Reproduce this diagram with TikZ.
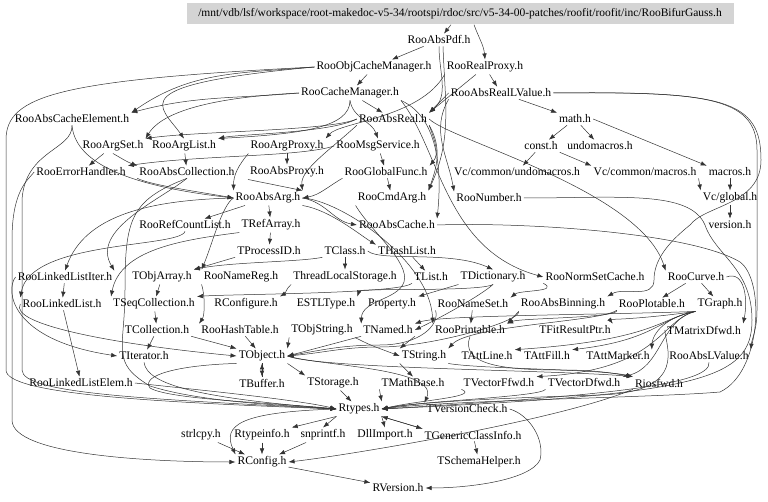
\documentclass[tikz,border=0pt]{standalone}
\usepackage{fontspec}
\setmainfont{Liberation Serif}
\usetikzlibrary{arrows.meta}

\begin{document}
\begin{tikzpicture}[x=1pt,y=-1pt]
        \tikzstyle{file}
	  =[inner sep=2pt, font=\fontsize{11.6}{13}\selectfont]
        \tikzstyle{dep}
	  =[draw=black!80, line width=0.5pt, -{Latex[length=6pt,width=4.5pt]}]
	\useasboundingbox (0,0) rectangle (768,502);

	% the file itself
	\node[file,font=\fontsize{11.5}{13}\selectfont,fill=black!17,minimum width=547pt,minimum height=21pt] (box)
	  at (460,14) {/mnt/vdb/lsf/workspace/root-makedoc-v5-34/rootspi/rdoc/src/v5-34-00-patches/roofit/roofit/inc/RooBifurGauss.h};

	% included files, row by row
	\node[file] (pdf) at (439,40) {RooAbsPdf.h};
	\node[file] (objcache) at (374,67) {RooObjCacheManager.h};
	\node[file] (realproxy) at (485,67) {RooRealProxy.h};
	\node[file] (cachemgr) at (350,93) {RooCacheManager.h};
	\node[file] (reallv) at (501,93) {RooAbsRealLValue.h};
	\node[file] (cacheelem) at (72,119) {RooAbsCacheElement.h};
	\node[file] (absreal) at (393,119) {RooAbsReal.h};
	\node[file] (math) at (575,119) {math.h};
	\node[file] (argset) at (113,146) {RooArgSet.h};
	\node[file] (arglist) at (184,146) {RooArgList.h};
	\node[file] (argproxy) at (287,146) {RooArgProxy.h};
	\node[file] (msgsvc) at (378,146) {RooMsgService.h};
	\node[file] (const) at (541,146) {const.h};
	\node[file] (undo) at (600,146) {undomacros.h};
	\node[file] (errhandler) at (81,172) {RooErrorHandler.h};
	\node[file] (abscoll) at (187,172) {RooAbsCollection.h};
	\node[file] (absproxy) at (287,172) {RooAbsProxy.h};
	\node[file] (globalfunc) at (386,172) {RooGlobalFunc.h};
	\node[file] (vcundo) at (517,172) {Vc/common/undomacros.h};
	\node[file] (vcmacros) at (645,172) {Vc/common/macros.h};
	\node[file] (macros) at (730,172) {macros.h};
	\node[file] (absarg) at (268,198) {RooAbsArg.h};
	\node[file] (cmdarg) at (392,198) {RooCmdArg.h};
	\node[file] (number) at (489,198) {RooNumber.h};
	\node[file] (vcglobal) at (730,198) {Vc/global.h};
	\node[file] (refcount) at (185,225) {RooRefCountList.h};
	\node[file] (refarray) at (271,225) {TRefArray.h};
	\node[file] (abscache) at (397,225) {RooAbsCache.h};
	\node[file] (version) at (730,225) {version.h};
	\node[file] (processid) at (269,251) {TProcessID.h};
	\node[file] (tclass) at (345,251) {TClass.h};
	\node[file] (hashlist) at (407,251) {THashList.h};
	\node[file] (llistiter) at (65,277) {RooLinkedListIter.h};
	\node[file] (objarray) at (162,277) {TObjArray.h};
	\node[file] (namereg) at (241,277) {RooNameReg.h};
	\node[file] (tls) at (345,277) {ThreadLocalStorage.h};
	\node[file] (tlist) at (431,277) {TList.h};
	\node[file] (dictionary) at (493,277) {TDictionary.h};
	\node[file] (normset) at (595,277) {RooNormSetCache.h};
	\node[file] (curve) at (696,277) {RooCurve.h};
	\node[file] (llist) at (62,304) {RooLinkedList.h};
	\node[file] (seqcoll) at (154,304) {TSeqCollection.h};
	\node[file] (rconfigure) at (246,304) {RConfigure.h};
	\node[file] (estl) at (326,304) {ESTLType.h};
	\node[file] (property) at (392,304) {Property.h};
	\node[file] (nameset) at (473,304) {RooNameSet.h};
	\node[file] (binning) at (563,304) {RooAbsBinning.h};
	\node[file] (plotable) at (652,304) {RooPlotable.h};
	\node[file] (graph) at (720,304) {TGraph.h};
	\node[file] (collection) at (157,330) {TCollection.h};
	\node[file] (hashtable) at (240,330) {RooHashTable.h};
	\node[file] (objstring) at (322,330) {TObjString.h};
	\node[file] (named) at (388,330) {TNamed.h};
	\node[file] (printable) at (470,330) {RooPrintable.h};
	\node[file] (fitresult) at (575,330) {TFitResultPtr.h};
	\node[file] (matrixd) at (704,330) {TMatrixDfwd.h};
	\node[file] (iterator) at (144,356) {TIterator.h};
	\node[file] (tobject) at (262,356) {TObject.h};
	\node[file] (tstring) at (424,356) {TString.h};
	\node[file] (attline) at (487,356) {TAttLine.h};
	\node[file] (attfill) at (547,356) {TAttFill.h};
	\node[file] (attmarker) at (618,356) {TAttMarker.h};
	\node[file] (abslv) at (709,356) {RooAbsLValue.h};
	\node[file] (llelem) at (81,383) {RooLinkedListElem.h};
	\node[file] (buffer) at (262,383) {TBuffer.h};
	\node[file] (storage) at (333,383) {TStorage.h};
	\node[file] (mathbase) at (413,383) {TMathBase.h};
	\node[file] (vecf) at (499,383) {TVectorFfwd.h};
	\node[file] (vecd) at (584,383) {TVectorDfwd.h};
	\node[file] (iosfwd) at (659,383) {Riosfwd.h};
	\node[file] (rtypes) at (359,409) {Rtypes.h};
	\node[file] (vcheck) at (467,409) {TVersionCheck.h};
	\node[file] (strlcpy) at (201,435) {strlcpy.h};
	\node[file] (typeinfo) at (262,435) {Rtypeinfo.h};
	\node[file] (snprintf) at (323,435) {snprintf.h};
	\node[file] (dllimport) at (385,435) {DllImport.h};
	\node[file] (genclass) at (473,435) {TGenericClassInfo.h};
	\node[file] (rconfig) at (262,462) {RConfig.h};
	\node[file] (schema) at (479,462) {TSchemaHelper.h};
	\node[file] (rversion) at (398,488) {RVersion.h};

	% top part
	\draw[dep] ([xshift=-9pt]box.south) -- (pdf);
	\draw[dep] ([xshift=14pt]box.south) to[out=-70,in=95] (realproxy.north);
	\draw[dep] (pdf) -- (objcache);
	\draw[dep] (pdf.south) to[out=-90,in=40] (absreal.north east);
	\draw[dep] ([xshift=4pt]pdf.south) to[out=-88,in=65] (cmdarg.north east);
	\draw[dep] (objcache) -- (cachemgr);
	\draw[dep] (objcache.west) to[out=185,in=35] (cacheelem.north east);
	\draw[dep] (objcache.west) .. controls (120,85) and (160,105) .. (arglist.north);
	\draw[dep] (objcache.west) .. controls (60,80) and (6,95) .. (6,140)
	  -- (6,370) .. controls (6,394) and (150,402) .. (rtypes.west);
	\draw[dep] (cachemgr.west) to[out=185,in=15] (cacheelem.north east);
	\draw[dep] (cachemgr.west) .. controls (200,98) and (160,115) .. (argset.north east);
	\draw[dep] (cachemgr.south) .. controls (350,128) and (300,134) .. (arglist.north east);
	\draw[dep] (cachemgr) -- (absreal);
	\draw[dep] (cachemgr.south) to[out=-80,in=110] (msgsvc.north);
	\draw[dep] (cachemgr.south east) .. controls (440,150) and (445,250) .. (normset.west);
	\draw[dep] (cachemgr.south east) .. controls (445,120) and (440,190) .. (abscache.north east);
	\draw[dep] (realproxy) -- (absreal.north east);
	\draw[dep] (realproxy.south west) .. controls (420,118) and (340,122) .. (argproxy.north east);
	\draw[dep] (realproxy) -- (reallv);
	\draw[dep] (reallv.west) -- (absreal.north east);
	\draw[dep] (reallv) -- (math);
	\draw[dep] (reallv.south west) to[out=-120,in=100] (number.north west);
	\draw[dep] (reallv.east) .. controls (700,92) and (757,95) .. (757,150)
	  -- (757,310) .. controls (757,330) and (752,338) .. (abslv.north east);
	\draw[dep] (reallv.east) .. controls (725,91) and (761,100) .. (761,160)
	  .. controls (761,205) and (705,205) .. (690,225)
	  .. controls (665,245) and (654,262) .. (654,280) to[out=-90,in=30] (binning.north east);

	% math.h and Vc
	\draw[dep] (math) -- (const);
	\draw[dep] (math) -- (undo);
	\draw[dep] (math.east) -- (macros.north west);
	\draw[dep] (const) -- (vcundo);
	\draw[dep] (const.south east) -- (vcmacros.north west);
	\draw[dep] (macros) -- (vcglobal);
	\draw[dep] (vcmacros.south east) -- (vcglobal.north west);
	\draw[dep] (vcglobal) -- (version);

	% RooAbsReal.h and friends
	\draw[dep] (absreal.south west) .. controls (330,150) and (300,170) .. (absarg.north east);
	\draw[dep] (absreal.south east) to[out=-60,in=70] (cmdarg.north east);
	\draw[dep] (absreal.east) .. controls (450,140) and (640,190) .. (curve.north west);
	\draw[dep] (absreal.west) .. controls (330,131) and (200,131) .. (argset.north east);
	\draw[dep] (absreal.west) .. controls (330,133) and (240,134) .. (arglist.north east);
	\draw[dep] (absreal.south east) to[out=-70,in=50] (globalfunc.north east);
	\draw[dep] (msgsvc) -- (globalfunc);
	\draw[dep] (msgsvc.west) .. controls (300,157) and (200,155) .. (errhandler.north east);
	\draw[dep] (argset) -- (errhandler);
	\draw[dep] (argset.south) to[out=-30,in=160] (abscoll.north west);
	\draw[dep] (arglist) -- (abscoll);
	\draw[dep] (argproxy) -- (absproxy);
	\draw[dep] (argproxy.south west) to[out=-130,in=90] (absarg.north west);
	\draw[dep] (absproxy.south west) -- (absarg.north east);
	\draw[dep] (globalfunc) -- (cmdarg);
	\draw[dep] (globalfunc.south west) to[out=-150,in=10] (absarg.east);
	\draw[dep] (cacheelem.south) .. controls (75,160) and (120,185) .. (absarg.west);
	\draw[dep] (cacheelem.south) .. controls (73,150) and (25,150) .. (22,200)
	  -- (22,370) .. controls (22,394) and (150,399) .. (rtypes.west);
	\draw[dep] (errhandler.west) .. controls (28,180) and (12,190) .. (12,240)
	  -- (12,420) .. controls (12,455) and (150,462) .. (rconfig.west);
	\draw[dep] (abscoll.south west) .. controls (150,185) and (200,192) .. (absarg.west);
	\draw[dep] (abscoll.south) .. controls (160,200) and (90,230) .. (llistiter.north east);
	\draw[dep] (abscoll.south) .. controls (130,200) and (125,220) .. (125,290)
	  .. controls (125,350) and (110,362) .. (150,386) .. controls (200,402) and (280,405) .. (rtypes.west);

	% RooAbsArg.h
	\draw[dep] (absarg) -- (refcount);
	\draw[dep] (absarg) -- (refarray);
	\draw[dep] (absarg.east) to[out=-10,in=170] (abscache.west);
	\draw[dep] (absarg.south east) .. controls (330,210) and (360,235) .. (hashlist.north west);
	\draw[dep] (absarg.east) .. controls (340,200) and (430,260) .. (printable.north west);
	\draw[dep] (absarg.west) .. controls (150,200) and (85,215) .. (llistiter.north);
	\draw[dep] (absarg.west) .. controls (222,205) and (212,245) .. (namereg.north west);
	\draw[dep] (cmdarg.south west) .. controls (370,230) and (410,262) .. (404,282)
	  .. controls (398,300) and (362,300) .. (named.north west);
	\draw[dep] (abscache.east) .. controls (520,222) and (690,232) .. (740,262)
	  .. controls (765,280) and (762,372) .. (720,392) .. controls (650,398) and (450,400) .. (rtypes.east);
	\draw[dep] (number.east) .. controls (620,198) and (690,190) .. (705,225)
	  .. controls (715,255) and (752,268) .. (752,320) .. controls (752,380) and (700,394) .. (rtypes.east);

	% middle rows
	\draw[dep] (refcount.south) .. controls (180,248) and (30,240) .. (llist.north west);
	\draw[dep] (refarray.south west) .. controls (180,240) and (120,250) .. (seqcoll.north west);
	\draw[dep] (refarray) -- (processid);
	\draw[dep] (processid.south west) -- (objarray.north east);
	\draw[dep] (tclass) -- (tls);
	\draw[dep] (tclass.south west) .. controls (300,262) and (230,262) .. (objarray.north east);
	\draw[dep] (tclass.east) .. controls (380,262) and (450,250) .. (dictionary.north);
	\draw[dep] (hashlist) -- (tlist);
	\draw[dep] (tlist.south west) .. controls (400,294) and (230,294) .. (seqcoll.north east);
	\draw[dep] (dictionary.south) .. controls (480,296) and (440,318) .. (named.east);
	\draw[dep] (dictionary.south) .. controls (480,292) and (360,288) .. (estl.north east);
	\draw[dep] (dictionary.south west) -- (property.north east);
	\draw[dep] (tls.south west) to[out=-140,in=30] (rconfigure.north east);
	\draw[dep] (normset.south west) .. controls (560,292) and (520,290) .. (nameset.north east);
	\draw[dep] (curve) -- (plotable);
	\draw[dep] (curve) -- (graph);
	\draw[dep] (curve.east) .. controls (745,270) and (748,300) .. (matrixd.north east);
	\draw[dep] (llistiter) -- (llist);
	\draw[dep] (llistiter.west) .. controls (5,290) and (10,340) .. (iterator.west);
	\draw[dep] (objarray) -- (seqcoll);
	\draw[dep] (namereg.south west) .. controls (205,295) and (205,315) .. (hashtable.north west);
	\draw[dep] (llist) -- (llelem);
	\draw[dep] (llist.west) .. controls (8,325) and (120,345) .. (tobject.west);
	\draw[dep] (seqcoll) -- (collection);
	\draw[dep] (collection) -- (iterator);
	\draw[dep] (collection.south east) -- (tobject.north west);
	\draw[dep] (hashtable) -- (tobject);
	\draw[dep] (objstring.south west) -- (tobject.north east);
	\draw[dep] (objstring.south east) .. controls (370,345) .. (tstring.west);
	\draw[dep] (named.south west) -- (tobject.east);
	\draw[dep] (named.south east) -- (tstring.north west);
	\draw[dep] (printable.south) .. controls (460,364) and (500,370) .. (560,370)
	  to[out=0,in=170] (iosfwd.north west);
	\draw[dep] (nameset.south west) .. controls (440,325) and (420,345) .. (380,345)
	  to[out=180,in=10] (tobject.east);
	\draw[dep] (nameset) -- (printable);
	\draw[dep] (binning.south west) -- (printable.north east);
	\draw[dep] (binning.south west) .. controls (520,322) and (430,347) .. (380,347)
	  to[out=180,in=5] (tobject.east);
	\draw[dep] (plotable.south west) .. controls (620,318) and (520,318) .. (printable.north east);
	\draw[dep] (plotable.south west) .. controls (600,322) and (470,325) .. (tstring.north east);
	\draw[dep] (graph.south west) .. controls (650,318) and (610,320) .. (fitresult.north east);
	\draw[dep] (graph.south west) .. controls (600,315) and (440,315) .. (named.north east);
	\draw[dep] (graph.south west) .. controls (660,318) and (655,340) .. (attline.north east);
	\draw[dep] (graph.south west) .. controls (660,318) and (655,340) .. (attfill.north east);
	\draw[dep] (graph.south west) .. controls (660,318) and (652,338) .. (attmarker.north east);
	\draw[dep] (graph.south west) .. controls (660,320) and (660,370) .. (vecf.north east);
	\draw[dep] (graph.south west) .. controls (660,320) and (662,368) .. (vecd.north east);

	% bottom part
	\draw[dep] (matrixd.west) .. controls (665,345) and (690,392) .. (600,395)
	  .. controls (500,398) and (420,402) .. (rtypes.east);
	\draw[dep] (abslv.south) .. controls (712,385) and (600,396) .. (rtypes.east);
	\draw[dep] (vecf.south west) .. controls (480,397) and (420,400) .. (rtypes.east);
	\draw[dep] (vecd.south west) .. controls (540,397) and (420,401) .. (rtypes.east);
	\draw[dep] (tobject) -- (buffer);
	\draw[dep] (buffer) -- (tobject);
	\draw[dep] (tobject.south east) -- (storage.north west);
	\draw[dep] (tobject.south west) .. controls (180,365) and (140,375) .. (150,388)
	  .. controls (170,400) and (280,403) .. (rtypes.west);
	\draw[dep] (tobject.east) .. controls (320,366) and (440,368) .. (vcheck.north west);
	\draw[dep] (tobject.east) .. controls (320,369) and (560,370) .. (iosfwd.north west);
	\draw[dep] (tstring.south west) -- (mathbase.north);
	\draw[dep] (tstring.south east) .. controls (480,369) and (600,369) .. (iosfwd.north west);
	\draw[dep] (storage) -- (rtypes);
	\draw[dep] (mathbase.south west) -- (rtypes.north east);
	\draw[dep] (iterator.south) .. controls (147,385) and (200,398) .. (rtypes.west);
	\draw[dep] (llelem.east) .. controls (200,390) and (300,400) .. (rtypes.west);
	\draw[dep] (iosfwd.south west) .. controls (560,420) and (350,455) .. (rconfig.east);
	\draw[dep] (rtypes.west) .. controls (240,412) and (222,425) .. (rconfig.north west);
	\draw[dep] (rtypes.south west) -- (typeinfo.north east);
	\draw[dep] (rtypes.south west) -- (snprintf.north);
	\draw[dep] (rtypes.south east) -- (dllimport.north);
	\draw[dep] (rtypes.south east) -- (genclass.north west);
	\draw[dep] (genclass.north west) -- (rtypes.south east);
	\draw[dep] (strlcpy) -- (rconfig);
	\draw[dep] (typeinfo) -- (rconfig);
	\draw[dep] (snprintf) -- (rconfig);
	\draw[dep] (genclass) -- (schema);
	\draw[dep] (rconfig) -- (rversion);
	\draw[dep] (vcheck.east) .. controls (530,415) and (545,440) .. (540,460)
	  .. controls (530,480) and (470,488) .. (rversion.east);
    \end{tikzpicture}
\end{document}
